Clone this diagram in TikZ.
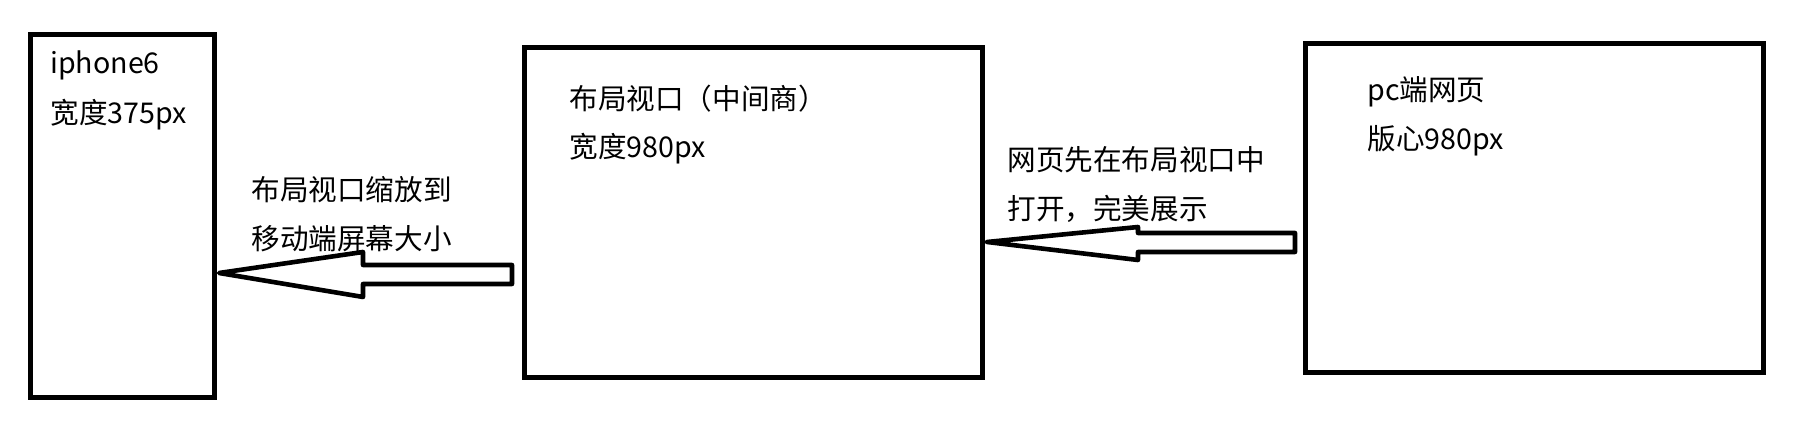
\documentclass[tikz,border=0pt]{standalone}
\usepackage{fontspec}
\setmainfont{Noto Sans CJK SC}
\begin{document}
\begin{tikzpicture}[x=0.5pt,y=-0.5pt,
  box/.style={draw=black,line width=2.5pt,rectangle,inner sep=0pt,fill=white},
  fatarrow/.style={draw=black,line width=2.3pt,line join=round,fill=white},
  lbl/.style={anchor=base west,inner sep=0pt,font=\fontsize{14.3pt}{17pt}\selectfont}]
\useasboundingbox[fill=white] (0,0) rectangle (1805,437);
% boxes
\node[box,minimum width=92pt,minimum height=181.5pt] (b1) at (122,216.5) {};
\node[box,minimum width=229pt,minimum height=165pt] (b2) at (753,213) {};
\node[box,minimum width=229pt,minimum height=164.5pt] (b3) at (1534,208.5) {};
% texts
\node[lbl] (t1a) at (50,74) {iphone6};
\node[lbl] (t1b) at (50,124) {宽度375px};
\node[lbl] (t2a) at (569,110) {布局视口（中间商）};
\node[lbl] (t2b) at (569,158) {宽度980px};
\node[lbl] (t3a) at (1367,101) {pc端网页};
\node[lbl] (t3b) at (1367,150) {版心980px};
\node[lbl] (l1a) at (251,201) {布局视口缩放到};
\node[lbl] (l1b) at (251,250) {移动端屏幕大小};
\node[lbl] (l2a) at (1007,171) {网页先在布局视口中};
\node[lbl] (l2b) at (1007,220) {打开，完美展示};
% arrows
\coordinate (a1tip) at (b1.east |- 0,273);
\coordinate (a1end) at (512,274.5);
\draw[fatarrow] ([xshift=1.3pt]a1tip) -- (363,252) -- (363,265) -- (a1end |- 0,265)
  -- (a1end |- 0,284) -- (363,284) -- (363,297) -- cycle;
\coordinate (a2tip) at (b2.east |- 0,242);
\coordinate (a2end) at (1295,242.5);
\draw[fatarrow] ([xshift=1.3pt]a2tip) -- (1138,227) -- (1138,233) -- (a2end |- 0,233)
  -- (a2end |- 0,252) -- (1138,252) -- (1138,260) -- cycle;
\end{tikzpicture}
\end{document}
